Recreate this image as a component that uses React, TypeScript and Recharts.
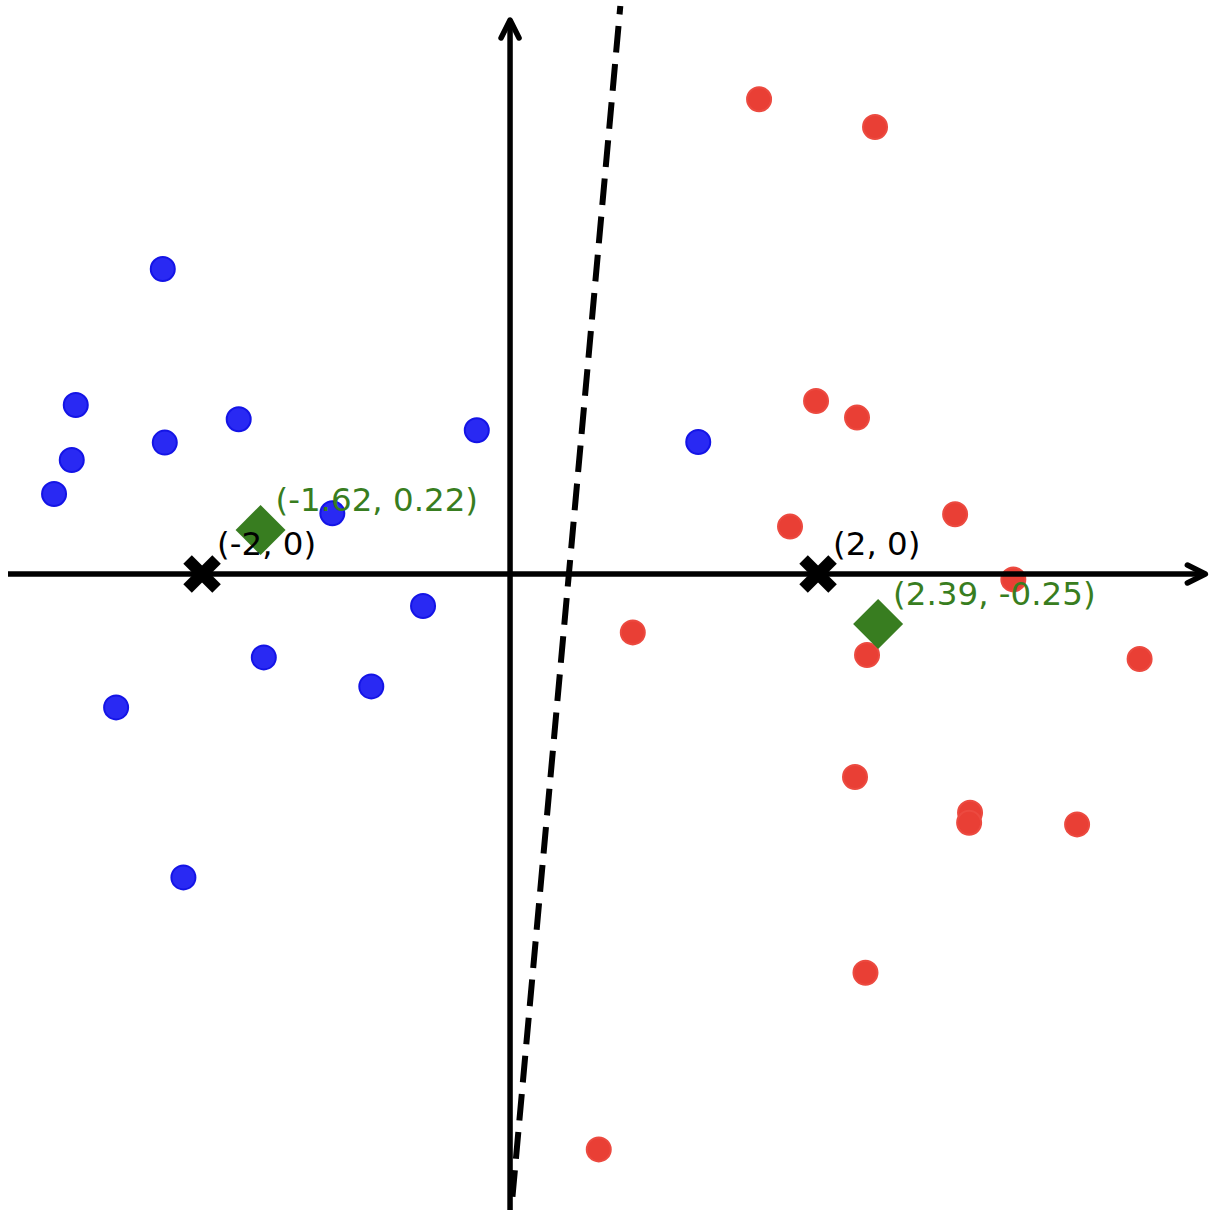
import { ReferenceLine, Scatter, ScatterChart, XAxis, YAxis } from "recharts";

// class A (blue) and class B (red) samples
const blueX = [-2.255, -2.82, -1.762, -0.216, -2.242, -2.846, -2.961, -1.154, -0.565, -1.599, -0.901, -2.558, -2.121, 1.222];
const blueY = [1.525, 0.845, 0.774, 0.719, 0.657, 0.57, 0.4, 0.304, -0.16, -0.417, -0.562, -0.667, -1.517, 0.66];

const redX = [1.617, 2.37, 1.987, 2.253, 1.818, 2.89, 3.268, 0.797, 2.318, 4.088, 2.24, 2.987, 2.981, 3.682, 2.308, 0.576];
const redY = [2.374, 2.235, 0.865, 0.782, 0.237, 0.299, -0.027, -0.292, -0.405, -0.425, -1.015, -1.194, -1.244, -1.252, -1.994, -2.877];

// true centres and estimated means
const centerX = [-2, 2];
const centerY = [0, 0];
const centerLabels = ["(-2, 0)", "(2, 0)"];

const meanX = [-1.62, 2.39];
const meanY = [0.22, -0.25];
const meanLabels = ["(-1.62, 0.22)", "(2.39, -0.25)"];

// decision boundary end points and axis extents
const boundaryX = [0.716, 0.015];
const boundaryY = [2.84, -3.12];
const xAxisRange = [-3.26, 4.515];
const yAxisRange = [-3.18, 2.77];

const xDomain = [-3.312, 4.623];
const yDomain = [-3.225, 2.87];

const zip = (xs: number[], ys: number[], labels?: string[]) =>
  xs.map((x, i) => ({ x, y: ys[i], label: labels ? labels[i] : "" }));

const blue = zip(blueX, blueY);
const red = zip(redX, redY);
const centers = zip(centerX, centerY, centerLabels);
const means = zip(meanX, meanY, meanLabels);

const GREEN = "#387d20";
const FONT = "DejaVu Sans, sans-serif";

function Dot({ cx, cy, fill, stroke }: any) {
  return <circle cx={cx} cy={cy} r={12} fill={fill} stroke={stroke} strokeWidth={2} />;
}

function Cross({ cx, cy }: any) {
  const a = 14.5;
  return (
    <g stroke="#000" strokeWidth={12} strokeLinecap="butt">
      <line x1={cx - a} y1={cy - a} x2={cx + a} y2={cy + a} />
      <line x1={cx - a} y1={cy + a} x2={cx + a} y2={cy - a} />
    </g>
  );
}

function Diamond({ cx, cy }: any) {
  const d = 25;
  return <polygon points={`${cx},${cy - d} ${cx + d},${cy} ${cx},${cy + d} ${cx - d},${cy}`} fill={GREEN} />;
}

function makeLabel(color: string) {
  return function Label({ cx, cy, payload }: any) {
    return (
      <text x={cx + 15} y={cy - 19} fill={color} fontSize={32.5} fontFamily={FONT}>
        {payload.label}
      </text>
    );
  };
}

function Arrow({ x1, y1, x2, y2 }: any) {
  const len = Math.hypot(x2 - x1, y2 - y1);
  const ux = (x2 - x1) / len;
  const uy = (y2 - y1) / len;
  const bx = x2 - ux * 18;
  const by = y2 - uy * 18;
  const half = 9;
  return (
    <g>
      <line x1={x1} y1={y1} x2={x2 - ux * 2} y2={y2 - uy * 2} stroke="#000" strokeWidth={5.5} />
      <polyline
        points={`${bx - uy * half},${by + ux * half} ${x2},${y2} ${bx + uy * half},${by - ux * half}`}
        fill="none"
        stroke="#000"
        strokeWidth={5.5}
        strokeLinejoin="round"
        strokeLinecap="round"
      />
    </g>
  );
}

export default function App() {
  return (
    <div style={{ position: "absolute", left: 0, top: 0, width: 1222, height: 1219, background: "#fff" }}>
      <ScatterChart width={1222} height={1219} margin={{ top: 0, right: 0, bottom: 0, left: 0 }}>
        <XAxis type="number" dataKey="x" domain={xDomain} hide allowDataOverflow />
        <YAxis type="number" dataKey="y" domain={yDomain} hide allowDataOverflow />
        <Scatter data={blue} isAnimationActive={false} zIndex={600} shape={(p: any) => <Dot {...p} fill="#2929f3" stroke="#1414e6" />} />
        <Scatter data={red} isAnimationActive={false} zIndex={600} shape={(p: any) => <Dot {...p} fill="#e93f35" stroke="#ec4a40" />} />
        <ReferenceLine
          segment={[{ x: boundaryX[0], y: boundaryY[0] }, { x: boundaryX[1], y: boundaryY[1] }]}
          stroke="#000"
          strokeWidth={6}
          strokeDasharray="26.7 11.6"
          strokeDashoffset={18.3}
          zIndex={700}
        />
        <ReferenceLine segment={[{ x: xAxisRange[0], y: 0 }, { x: xAxisRange[1], y: 0 }]} shape={Arrow} zIndex={700} />
        <ReferenceLine segment={[{ x: 0, y: yAxisRange[0] }, { x: 0, y: yAxisRange[1] }]} shape={Arrow} zIndex={700} />
        <Scatter data={centers} isAnimationActive={false} zIndex={800} shape={Cross} />
        <Scatter data={means} isAnimationActive={false} zIndex={810} shape={Diamond} />
        <Scatter data={centers} isAnimationActive={false} zIndex={820} shape={makeLabel("#000")} />
        <Scatter data={means} isAnimationActive={false} zIndex={830} shape={makeLabel(GREEN)} />
      </ScatterChart>
    </div>
  );
}
